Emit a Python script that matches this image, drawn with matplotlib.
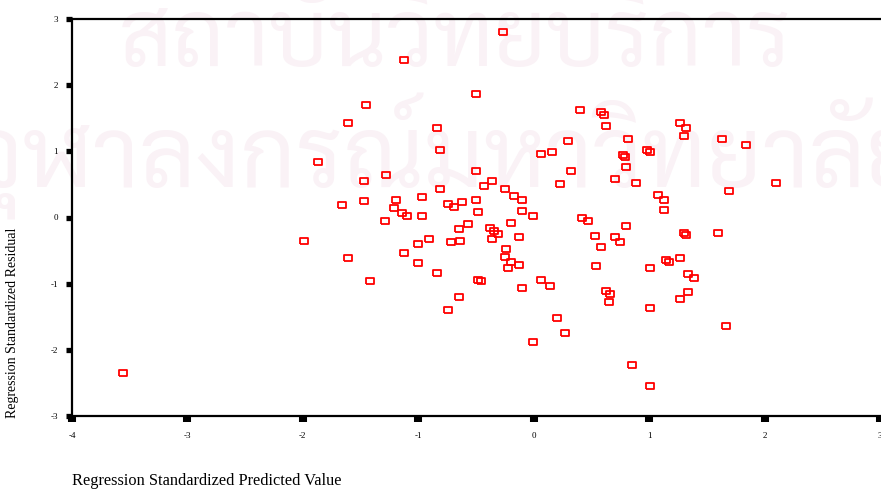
import matplotlib
matplotlib.use('Agg')
import matplotlib.pyplot as plt
from matplotlib import font_manager
from matplotlib.ft2font import FT2Font

# standardized predicted value (x) and standardized residual (y)
pred = [-3.56, -1.99, -1.87, -1.66, -1.61, -1.61, -1.45, -1.47, -1.47, -1.42,
        -1.29, -1.28, -1.21, -1.19, -1.14, -1.10, -1.12, -1.12, -1.00, -1.00,
        -0.97, -0.97, -0.91, -0.84, -0.84, -0.81, -0.81, -0.74, -0.74, -0.72,
        -0.69, -0.65, -0.65, -0.64, -0.62, -0.57, -0.50, -0.50, -0.50, -0.48,
        -0.48, -0.46, -0.43, -0.38, -0.36, -0.36, -0.34, -0.31, -0.27, -0.25,
        -0.25, -0.24, -0.22, -0.20, -0.20, -0.17, -0.13, -0.13, -0.10, -0.10,
        -0.10, -0.01, -0.01, 0.06, 0.06, 0.14, 0.16, 0.20, 0.23, 0.27,
        0.30, 0.32, 0.40, 0.42, 0.47, 0.53, 0.54, 0.58, 0.58, 0.61,
        0.63, 0.63, 0.65, 0.66, 0.70, 0.70, 0.75, 0.77, 0.79, 0.80,
        0.80, 0.82, 0.85, 0.89, 0.98, 1.01, 1.01, 1.01, 1.01, 1.08,
        1.13, 1.13, 1.15, 1.17, 1.27, 1.27, 1.27, 1.30, 1.30, 1.32,
        1.32, 1.34, 1.34, 1.39, 1.60, 1.63, 1.67, 1.69, 1.84, 2.10]
resid = [-2.35, -0.35, 0.84, 0.19, -0.61, 1.43, 1.70, 0.55, 0.25, -0.96,
         -0.05, 0.64, 0.14, 0.26, 0.07, 0.02, 2.38, -0.54, -0.40, -0.69,
         0.31, 0.02, -0.32, 1.35, -0.84, 1.02, 0.43, 0.20, -1.40, -0.37,
         0.16, -0.17, -1.20, -0.35, 0.23, -0.10, 1.87, 0.70, 0.26, 0.08,
         -0.94, -0.96, 0.48, -0.16, 0.55, -0.32, -0.20, -0.25, 2.80, 0.43,
         -0.60, -0.48, -0.76, -0.08, -0.67, 0.32, -0.29, -0.72, 0.26, 0.10,
         -1.06, 0.02, -1.88, 0.96, -0.94, -1.03, 0.99, -1.52, 0.51, -1.74,
         1.16, 0.70, 1.62, -0.01, -0.05, -0.28, -0.73, 1.59, -0.45, 1.55,
         1.38, -1.11, -1.28, -1.16, 0.58, -0.29, -0.37, 0.94, 0.91, 0.76,
         -0.13, 1.19, -2.23, 0.52, 1.02, 0.99, -0.76, -1.37, -2.55, 0.34,
         0.26, 0.11, -0.64, -0.67, 1.43, -0.61, -1.23, 1.23, -0.23, 1.35,
         -0.26, -0.85, -1.13, -0.91, -0.23, 1.19, -1.64, 0.40, 1.10, 0.52]

x_ticks = [-4, -3, -2, -1, 0, 1, 2, 3]
y_ticks = [-3, -2, -1, 0, 1, 2, 3]

x_title = 'Regression Standardized Predicted Value'
y_title = 'Regression Standardized Residual'
watermark = ['สถาบันวิทยบริการ', 'จุฬาลงกรณ์มหาวิทยาลัย']


def thai_font():
    # the scan carries a faint Thai watermark; pick a plain looped Thai face
    thai = []
    for path in font_manager.findSystemFonts():
        try:
            if 0x0E2A in FT2Font(path).get_charmap():
                thai.append(path)
        except Exception:
            pass
    for want in ['Sarabun-Regular', 'Niramit-Regular', 'Sarabun', 'Niramit']:
        for p in thai:
            if want in p:
                return p
    thai = [p for p in thai if 'unifont' not in p.lower()]
    return thai[0] if thai else None


plt.rcParams['font.family'] = ['Liberation Serif', 'DejaVu Serif']

fig = plt.figure(figsize=(8.81, 4.91), dpi=100)
ax = fig.add_axes([72 / 881, 75 / 491, 808 / 881, 397 / 491])
ax.set_facecolor('none')

tf = thai_font()
if tf:
    fig.text(455 / 881, 1 - 66 / 491, watermark[0], color='#faf2f6',
             fontproperties=font_manager.FontProperties(fname=tf, size=66),
             ha='center', va='baseline', zorder=-1)
    fig.text(445 / 881, 1 - 188 / 491, watermark[1], color='#faf2f6',
             fontproperties=font_manager.FontProperties(fname=tf, size=70),
             ha='center', va='baseline', zorder=-1)

box = [(-1, -0.75), (1, -0.75), (1, 0.75), (-1, 0.75), (-1, -0.75)]
ax.plot(pred, resid, linestyle='none', marker=box, markersize=6.4,
        markerfacecolor='none', markeredgecolor='red', markeredgewidth=1.3,
        clip_on=False)

ax.set_xlim(-4, 3)
ax.set_ylim(-3, 3)
ax.set_xticks(x_ticks)
ax.set_yticks(y_ticks)
ax.set_xticklabels([str(t) for t in x_ticks])
ax.set_yticklabels([str(t) for t in y_ticks])

ax.spines['right'].set_visible(False)
for s in ['top', 'left', 'bottom']:
    ax.spines[s].set_linewidth(1.6)
ax.tick_params(axis='x', direction='out', length=4.3, width=5.8, pad=7,
               labelsize=6.5, top=False)
ax.tick_params(axis='y', direction='out', length=4.3, width=3.8, pad=6,
               labelsize=6.5, right=False)

ax.set_xlabel(x_title, loc='left', fontsize=11.8)
ax.xaxis.set_label_coords(0, -0.143)
ax.set_ylabel(y_title, loc='bottom', fontsize=10)
ax.yaxis.set_label_coords(-0.065, -0.005)

fig.savefig('out.png', dpi=100)
